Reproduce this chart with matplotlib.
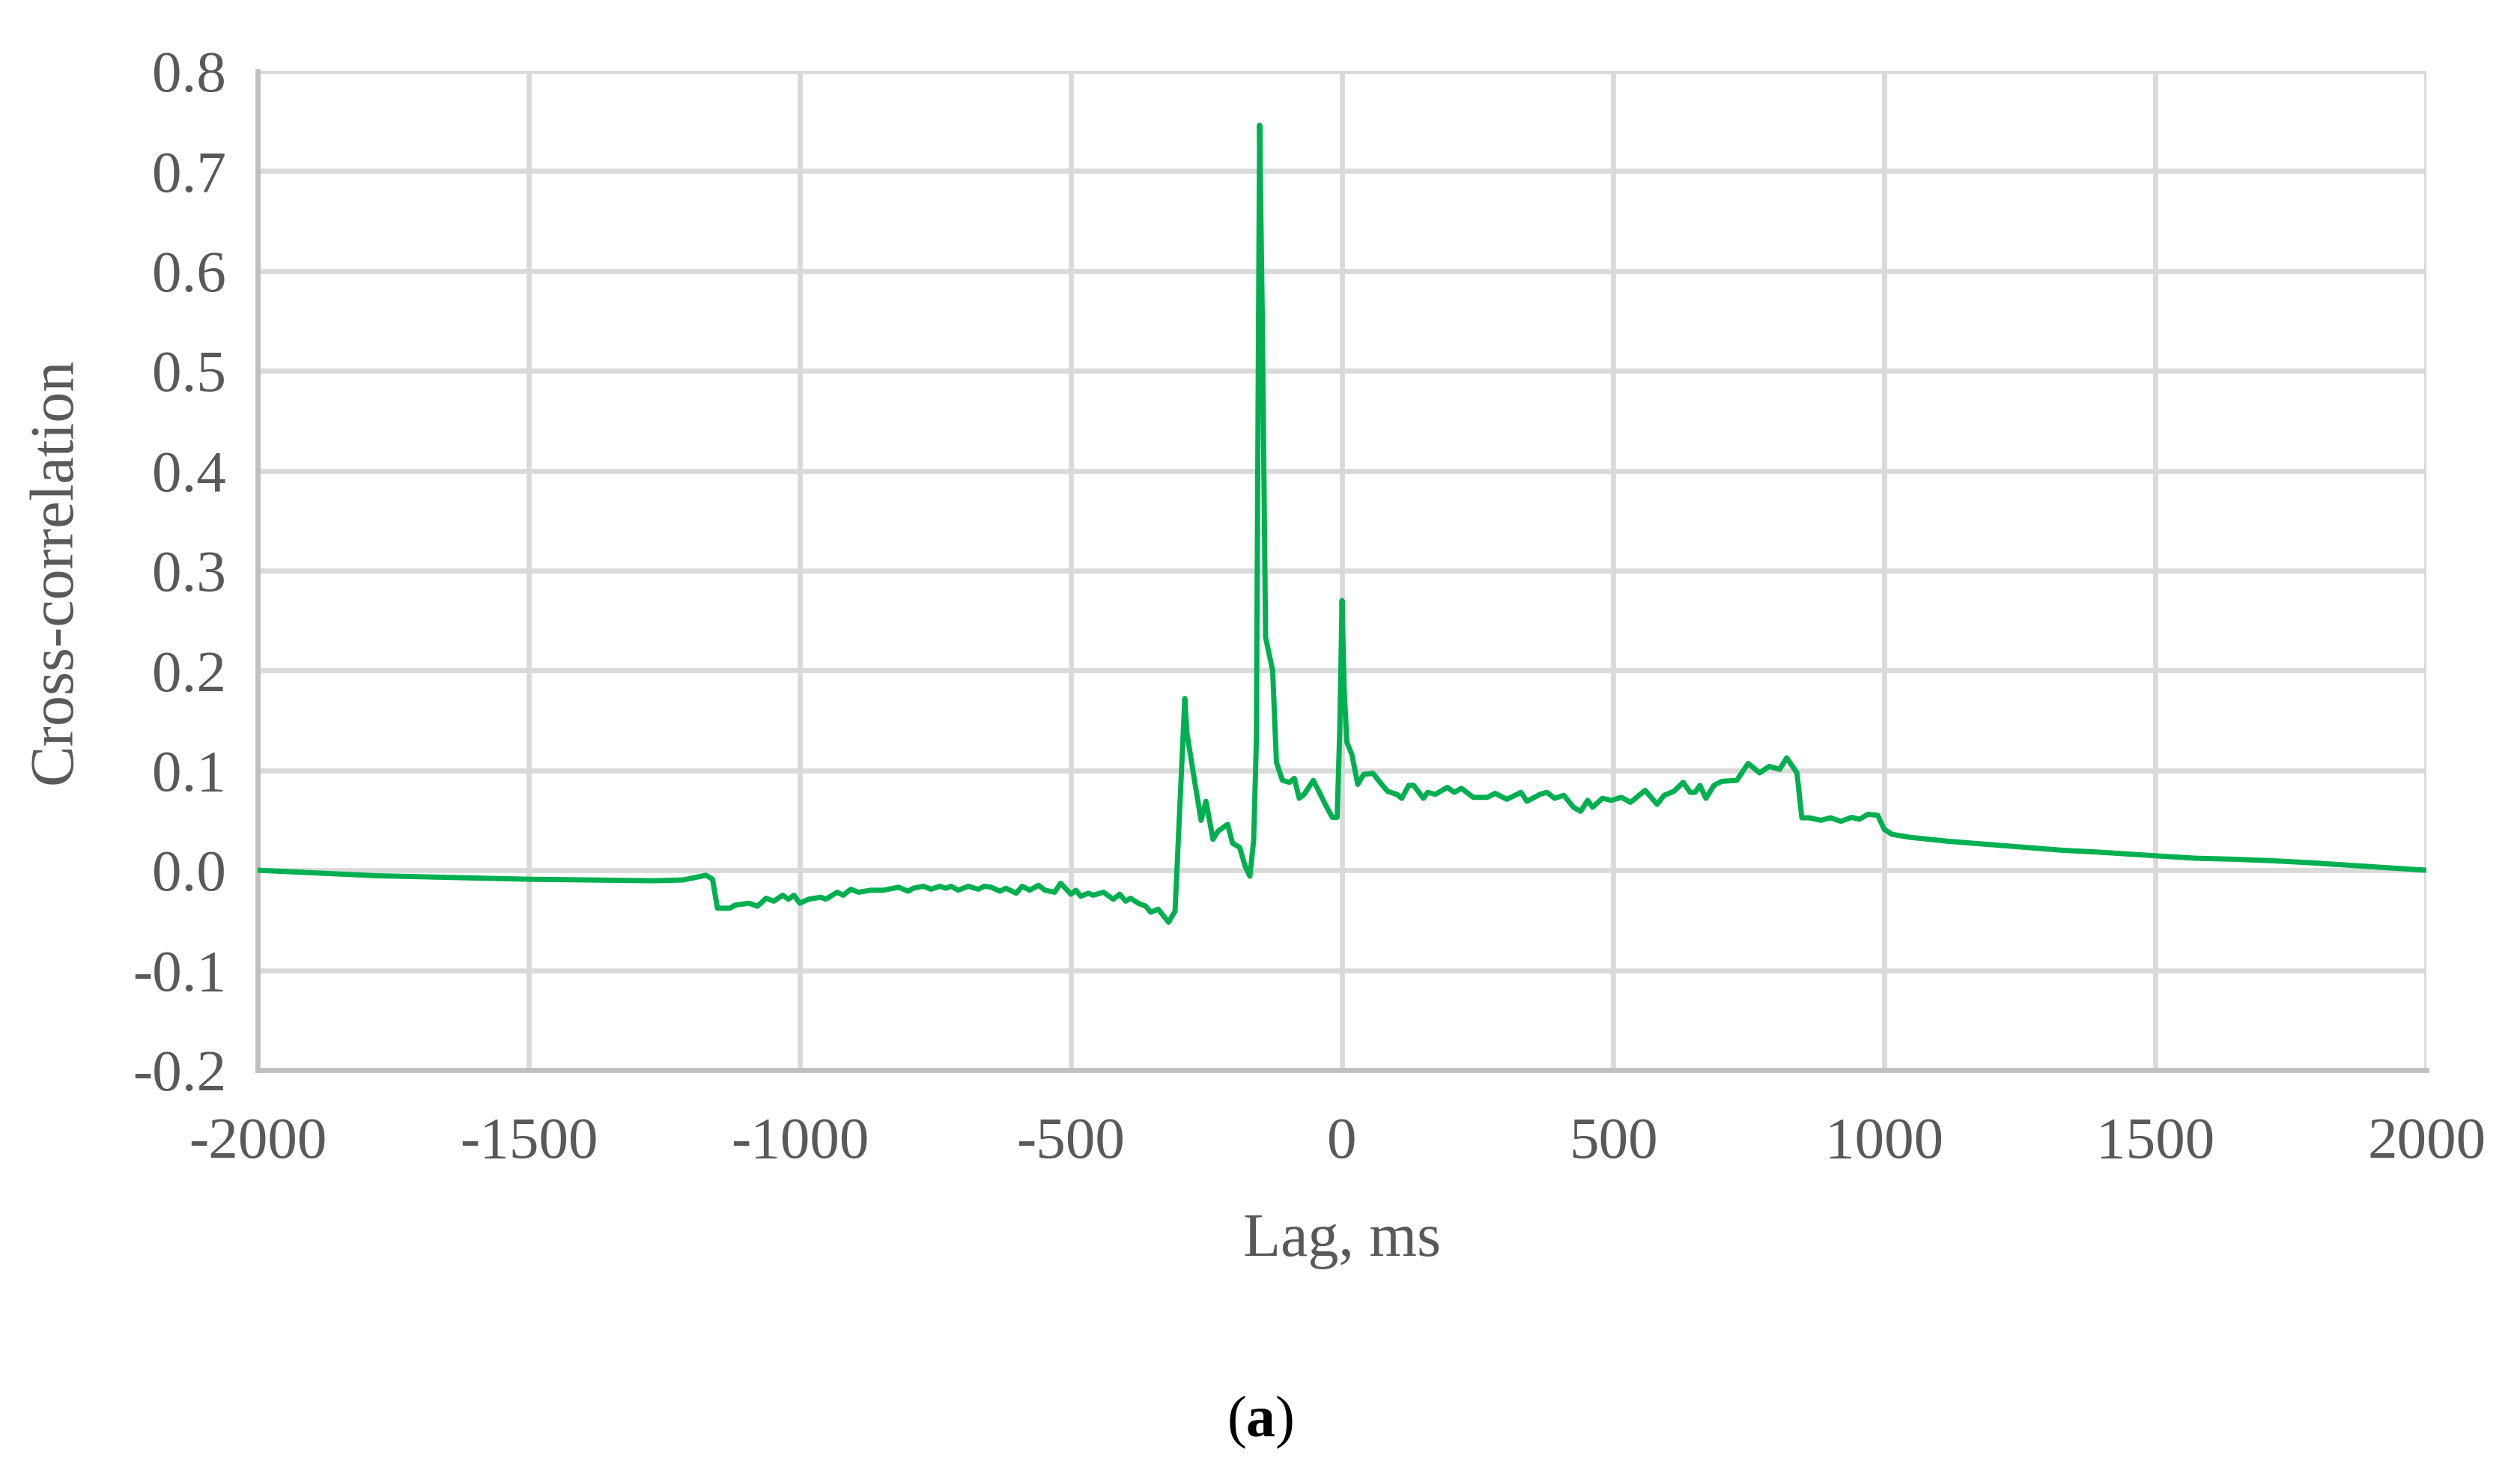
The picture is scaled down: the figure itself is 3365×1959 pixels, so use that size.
import matplotlib
matplotlib.use('Agg')
import matplotlib.pyplot as plt

# lag (ms) and cross-correlation
lag = [-2000, -1780, -1500, -1270, -1215, -1173, -1161, -1152,
       -1129, -1120, -1094, -1078, -1062, -1048, -1032, -1021, -1011, -1000,
       -984, -961, -952, -931, -920, -906, -892, -869, -846, -818, -800,
       -791, -772, -758, -742, -731, -721, -708, -689, -671, -659, -647,
       -631, -620, -601, -590, -576, -560, -548, -530, -519, -500, -491,
       -482, -468, -459, -440, -422, -410, -399, -390, -376, -362, -353,
       -339, -320, -308, -290, -286, -273, -260, -251, -238, -229, -211,
       -202, -189, -178, -170, -163, -158, -155, -152, -147, -141, -128,
       -121, -110, -97, -88, -79, -70, -53, -40, -31, -18, -9, -4, 0, 4,
       9, 18, 29, 40, 57, 70, 84, 101, 110, 123, 132, 150, 158, 172, 194,
       207, 220, 242, 268, 282, 304, 330, 341, 365, 378, 392, 409, 427,
       440, 453, 462, 480, 497, 515, 532, 559, 581, 594, 612, 629, 642,
       651, 660, 671, 686, 700, 728, 749, 770, 788, 807, 820, 839, 848,
       862, 883, 901, 920, 940, 954, 970, 988, 1000, 1014, 1047, 1118,
       1188, 1259, 1329, 1400, 1500, 1575, 1646, 1717, 1787, 1858, 1928,
       2000]
xcorr = [0.0, -0.0055, -0.009, -0.0105, -0.0097, -0.005, -0.009, -0.038,
         -0.038, -0.035, -0.033, -0.036, -0.028, -0.031, -0.025, -0.029,
         -0.025, -0.033, -0.029, -0.027, -0.029, -0.022, -0.025, -0.019,
         -0.022, -0.020, -0.020, -0.017, -0.021, -0.018, -0.016, -0.019,
         -0.016, -0.018, -0.016, -0.020, -0.016, -0.019, -0.016, -0.017,
         -0.021, -0.018, -0.023, -0.016, -0.020, -0.015, -0.020, -0.022,
         -0.013, -0.024, -0.020, -0.026, -0.023, -0.025, -0.022, -0.029,
         -0.024, -0.031, -0.028, -0.033, -0.036, -0.042, -0.039, -0.052,
         -0.041, 0.172, 0.137, 0.093, 0.050, 0.069, 0.031, 0.039, 0.046,
         0.027, 0.023, 0.003, -0.006, 0.030, 0.13, 0.45, 0.746, 0.55,
         0.233, 0.200, 0.108, 0.090, 0.088, 0.092, 0.072, 0.076, 0.090,
         0.076, 0.066, 0.053, 0.053, 0.145, 0.270, 0.180, 0.128, 0.116,
         0.086, 0.096, 0.097, 0.088, 0.079, 0.076, 0.072, 0.085, 0.085,
         0.072, 0.078, 0.076, 0.083, 0.078, 0.082, 0.073, 0.073, 0.077,
         0.071, 0.078, 0.069, 0.076, 0.078, 0.072, 0.075, 0.063, 0.059,
         0.070, 0.063, 0.072, 0.070, 0.073, 0.068, 0.080, 0.066, 0.075,
         0.079, 0.088, 0.078, 0.078, 0.085, 0.072, 0.085, 0.089, 0.090,
         0.107, 0.0975, 0.104, 0.101, 0.1125, 0.0975, 0.0525, 0.0525,
         0.050, 0.0525, 0.049, 0.053, 0.051, 0.056, 0.055, 0.041, 0.036,
         0.033, 0.029, 0.026, 0.023, 0.020, 0.018, 0.0145, 0.012, 0.011,
         0.0095, 0.0075, 0.005, 0.0025, 0.0]

x_ticks = [-2000, -1500, -1000, -500, 0, 500, 1000, 1500, 2000]
y_ticks = [-0.2, -0.1, 0.0, 0.1, 0.2, 0.3, 0.4, 0.5, 0.6, 0.7, 0.8]
y_tick_labels = ['-0.2', '-0.1', '0.0', '0.1', '0.2', '0.3', '0.4', '0.5',
                 '0.6', '0.7', '0.8']

plt.rcParams['font.family'] = ['Liberation Serif', 'DejaVu Serif']
plt.rcParams['axes.unicode_minus'] = False
plt.rcParams['mathtext.fontset'] = 'custom'
plt.rcParams['mathtext.rm'] = 'Liberation Serif'
plt.rcParams['mathtext.bf'] = 'Liberation Serif:bold'

text_grey = '#595959'
grid_grey = '#d9d9d9'

fig = plt.figure(figsize=(33.66, 19.59), dpi=100)
ax = fig.add_axes([0.1022, 0.2706, 0.8604, 0.6809])

ax.plot(lag, xcorr, color='#00b050', lw=5, zorder=3, solid_joinstyle='round')

ax.set_xlim(-2000, 2000)
ax.set_ylim(-0.2, 0.8)
ax.set_xticks(x_ticks)
ax.set_xticklabels([str(t) for t in x_ticks])
ax.set_yticks(y_ticks)
ax.set_yticklabels(y_tick_labels)
ax.grid(True, color=grid_grey, lw=4.8)
ax.set_axisbelow(True)
ax.tick_params(length=0, labelsize=57, colors=text_grey)
ax.tick_params(axis='y', pad=30)
ax.tick_params(axis='x', pad=45)

for side in ['top', 'right']:
    ax.spines[side].set_visible(False)
for side in ['left', 'bottom']:
    ax.spines[side].set_color('#bfbfbf')
    ax.spines[side].set_linewidth(4.8)

ax.set_xlabel('Lag, ms', fontsize=59, color=text_grey)
ax.xaxis.label.set_va('center')
ax.xaxis.set_label_coords(0.5, -0.171)
ax.set_ylabel('Cross-correlation', fontsize=59, color=text_grey)
ax.yaxis.label.set_va('center')
ax.yaxis.set_label_coords(-0.0929, 0.5)

fig.text(0.5, 1 - 1899 / 1959, r'($\mathbf{a}$)', ha='center', va='center',
         fontsize=56, color='black')

fig.savefig('out.png', dpi=100, facecolor='white')
